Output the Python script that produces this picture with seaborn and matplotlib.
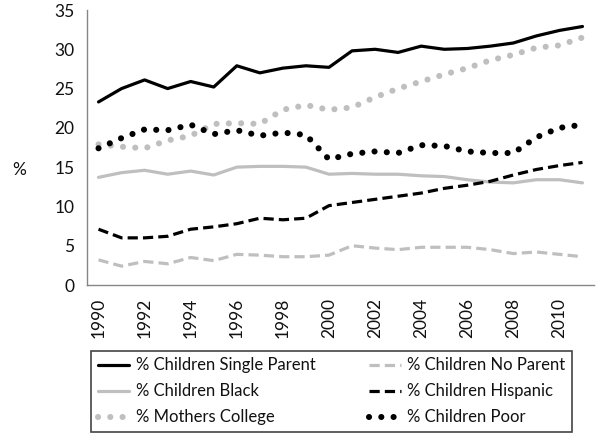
import numpy as np
import pandas as pd
import matplotlib
matplotlib.use("Agg")
import matplotlib.pyplot as plt
import seaborn as sns

# ---------------- data ----------------
years = list(range(1990, 2012))

single_parent = [23.3, 25.0, 26.1, 25.0, 25.9, 25.2, 27.9, 27.0, 27.6, 27.9, 27.7,
                 29.8, 30.0, 29.6, 30.4, 30.0, 30.1, 30.4, 30.8, 31.7, 32.4, 32.9]
no_parent = [3.2, 2.4, 3.0, 2.7, 3.5, 3.1, 3.9, 3.8, 3.6, 3.6, 3.8,
             5.0, 4.7, 4.5, 4.8, 4.8, 4.8, 4.5, 4.0, 4.2, 3.9, 3.6]
black = [13.7, 14.3, 14.6, 14.1, 14.5, 14.0, 15.0, 15.1, 15.1, 15.0, 14.1,
         14.2, 14.1, 14.1, 13.9, 13.8, 13.4, 13.1, 13.0, 13.4, 13.4, 13.0]
hispanic = [7.1, 6.0, 6.0, 6.2, 7.1, 7.4, 7.8, 8.5, 8.3, 8.5, 10.1,
            10.5, 10.9, 11.3, 11.7, 12.3, 12.7, 13.2, 14.0, 14.7, 15.2, 15.6]
mothers_college = [17.9, 17.6, 17.4, 18.4, 19.0, 20.5, 20.6, 20.5, 22.3, 22.9, 22.3,
                   22.6, 23.9, 25.0, 25.9, 26.8, 27.6, 28.6, 29.3, 30.2, 30.5, 31.5]
poor = [17.4, 18.7, 19.8, 19.7, 20.4, 19.2, 19.7, 19.0, 19.4, 19.1, 16.0,
        16.7, 17.0, 16.8, 17.8, 17.7, 17.0, 16.8, 16.8, 18.8, 20.0, 20.4]

labels = ["% Children Single Parent", "% Children No Parent",
          "% Children Black", "% Children Hispanic",
          "% Mothers College", "% Children Poor"]

# ---------------- style ----------------
sns.set_style("white")
plt.rcParams["font.family"] = ["Lato", "DejaVu Sans"]

BLACK = "#000000"
GRAY = "#BFBFBF"
AXIS = "#868686"
TXT = "#111111"

fig = plt.figure(figsize=(6.01, 4.40), dpi=100)
ax = fig.add_axes([87 / 601, 1 - 285 / 440, (594 - 87) / 601, (285 - 10) / 440])

lw = 2.3
dot = dict(linestyle=(0, (0.01, 2.0)), linewidth=4.4, dash_capstyle="round")
dash = dict(linestyle=(0, (3.2, 1.6)), linewidth=lw, dash_capstyle="butt")

series = [
    (single_parent, BLACK, dict(linestyle="-", linewidth=lw)),
    (no_parent, GRAY, dash),
    (black, GRAY, dict(linestyle="-", linewidth=lw)),
    (hispanic, BLACK, dash),
    (mothers_college, GRAY, dot),
    (poor, BLACK, dot),
]

for (vals, col, kw), lab in zip(series, labels):
    sns.lineplot(x=years, y=vals, color=col, label=lab, ax=ax, **kw)

# axes
ax.set_xlim(1989.5, 2011.5)
ax.set_ylim(0, 35)
ax.set_yticks(np.arange(0, 36, 5))
ax.set_xticks(np.arange(1990, 2011, 2))
ax.set_xticks(np.arange(1989.5, 2012, 1), minor=True)
ax.tick_params(axis="x", which="major", length=0, pad=9, labelrotation=90,
               labelsize=12.5, labelcolor=TXT)
ax.tick_params(axis="x", which="minor", length=4, color=AXIS, direction="out")
ax.tick_params(axis="y", length=4, color=AXIS, direction="out", labelsize=12.5,
               labelcolor=TXT, pad=5)
for s in ["top", "right"]:
    ax.spines[s].set_visible(False)
for s in ["left", "bottom"]:
    ax.spines[s].set_color(AXIS)
    ax.spines[s].set_linewidth(1)
ax.set_xlabel("")
ax.set_ylabel("")
fig.text(12 / 601, 1 - 170 / 440, "%", fontsize=12.5, color=TXT,
         ha="left", va="center")

# legend, filled row by row like the original
handles, labs = ax.get_legend_handles_labels()
ax.legend_.remove()
order = [0, 2, 4, 1, 3, 5]
leg = fig.legend([handles[i] for i in order], [labs[i] for i in order],
                 ncol=2, loc="lower left",
                 bbox_to_anchor=(91 / 601, 1 - 432 / 440, (572 - 91) / 601, (432 - 350) / 440),
                 mode="expand", frameon=True, fancybox=False, edgecolor="#444444",
                 framealpha=1, fontsize=12, handlelength=1.9, handletextpad=0.4,
                 borderpad=0.4, labelspacing=0.6, borderaxespad=0)
leg.get_frame().set_linewidth(1.2)
for t in leg.get_texts():
    t.set_color(TXT)

fig.savefig("out.png", dpi=100)
